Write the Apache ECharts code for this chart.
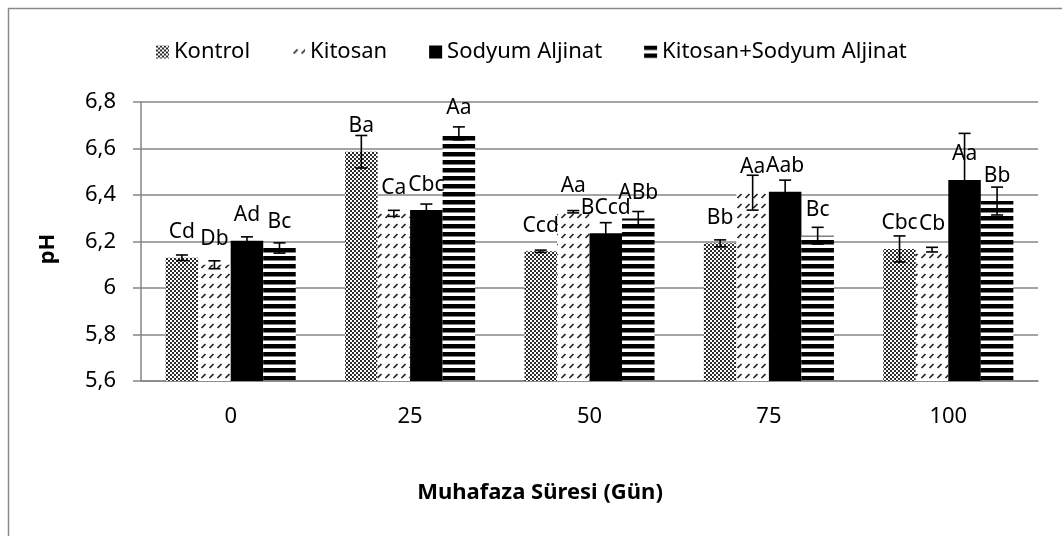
<!DOCTYPE html>
<html>
<head>
<meta charset="utf-8">
<script src="https://cdn.jsdelivr.net/npm/echarts@6/dist/echarts.min.js"></script>
<style>
  html, body { margin: 0; padding: 0; background: #fff; }
  #chart { width: 1062px; height: 536px; }
</style>
</head>
<body>
<div id="chart"></div>
<script>
// gün
const categories = ['0', '25', '50', '75', '100']
const seriesNames = ['Kontrol', 'Kitosan', 'Sodyum Aljinat', 'Kitosan+Sodyum Aljinat']

const kontrol = [6.13, 6.586, 6.158, 6.192, 6.168]
const kitosan = [6.1, 6.321, 6.328, 6.41, 6.165]
const sodyum = [6.203, 6.335, 6.235, 6.414, 6.465]
const kitosanSodyum = [6.172, 6.665, 6.299, 6.225, 6.374]

const kontrolErr = [0.012, 0.07, 0.005, 0.015, 0.056]
const kitosanErr = [0.017, 0.013, 0.005, 0.075, 0.01]
const sodyumErr = [0.017, 0.026, 0.046, 0.05, 0.2]
const kitosanSodyumErr = [0.022, 0.028, 0.03, 0.036, 0.06]

const kontrolLbl = ['Cd', 'Ba', 'Ccd', 'Bb', 'Cbc']
const kitosanLbl = ['Db', 'Ca', 'Aa', 'Aa', 'Cb']
const sodyumLbl = ['Ad', 'Cbc', 'BCcd', 'Aab', 'Aa']
const kitosanSodyumLbl = ['Bc', 'Aa', 'ABb', 'Bc', 'Bb']

const yTicks = { min: 5.6, max: 6.8, interval: 0.2 }

const values = [kontrol, kitosan, sodyum, kitosanSodyum]
const errors = [kontrolErr, kitosanErr, sodyumErr, kitosanSodyumErr]
const labels = [kontrolLbl, kitosanLbl, sodyumLbl, kitosanSodyumLbl]

const FONT = 'Noto Sans'
const CAT_GAP = 0.275

// desen dolgular
function checker() {
  const c = document.createElement('canvas')
  c.width = 4; c.height = 4
  const g = c.getContext('2d')
  g.fillStyle = '#fff'; g.fillRect(0, 0, 4, 4)
  g.fillStyle = '#2a2a2a'
  g.fillRect(0, 0, 2, 2); g.fillRect(2, 2, 2, 2)
  return { image: c, repeat: 'repeat' }
}
function dashes() {
  const c = document.createElement('canvas')
  c.width = 8; c.height = 10
  const g = c.getContext('2d')
  g.fillStyle = '#fff'; g.fillRect(0, 0, 8, 10)
  g.strokeStyle = '#222'; g.lineWidth = 1.7
  g.beginPath(); g.moveTo(1.5, 8); g.lineTo(5.5, 4); g.stroke()
  return { image: c, repeat: 'repeat' }
}
function stripes() {
  const c = document.createElement('canvas')
  c.width = 8; c.height = 8
  const g = c.getContext('2d')
  g.fillStyle = '#fff'; g.fillRect(0, 0, 8, 8)
  g.fillStyle = '#000'; g.fillRect(0, 0, 8, 4.5)
  return { image: c, repeat: 'repeat' }
}
const fills = [checker(), dashes(), '#000', stripes()]

const chart = echarts.init(document.getElementById('chart'))

const barSeries = seriesNames.map((name, i) => ({
  name,
  type: 'bar',
  data: values[i],
  barGap: 0,
  barCategoryGap: (CAT_GAP * 100) + '%',
  itemStyle: { color: fills[i] },
  label: {
    show: true,
    position: 'top',
    distance: 15,
    fontFamily: FONT,
    fontSize: 21,
    color: '#000',
    formatter: p => labels[i][p.dataIndex],
  },
  z: 2,
}))

const errSeries = seriesNames.map((name, i) => ({
  type: 'custom',
  name: name + ' err',
  data: values[i].map((v, k) => [k, v, errors[i][k]]),
  renderItem: (params, api) => {
    const k = api.value(0)
    const v = api.value(1)
    const e = api.value(2)
    const catW = api.size([1, 0])[0]
    const bw = catW * (1 - CAT_GAP) / 4
    const cx = api.coord([k, v])[0] + (i - 1.5) * bw
    const yHi = api.coord([k, v + e])[1]
    const yLo = api.coord([k, v - e])[1]
    const style = { stroke: '#000', lineWidth: 1.6 }
    return {
      type: 'group',
      children: [
        { type: 'line', shape: { x1: cx, y1: yHi, x2: cx, y2: yLo }, style },
        { type: 'line', shape: { x1: cx - 6, y1: yHi, x2: cx + 6, y2: yHi }, style },
        { type: 'line', shape: { x1: cx - 6, y1: yLo, x2: cx + 6, y2: yLo }, style },
      ],
    }
  },
  z: 5,
  silent: true,
}))

const option = {
  backgroundColor: '#fff',
  animation: false,
  textStyle: { fontFamily: FONT },
  legend: {
    data: seriesNames,
    top: 36,
    left: 151,
    icon: 'rect',
    itemWidth: 13,
    itemHeight: 13,
    itemGap: 42,
    textStyle: { fontFamily: FONT, fontSize: 22, color: '#000' },
  },
  grid: { left: 141, right: 24, top: 102, bottom: 155 },
  xAxis: {
    type: 'category',
    data: categories,
    axisLine: { lineStyle: { color: '#868686', width: 1.5 } },
    axisTick: { show: false },
    axisLabel: { fontFamily: FONT, fontSize: 22, color: '#000', margin: 25 },
  },
  yAxis: {
    type: 'value',
    min: yTicks.min,
    max: yTicks.max,
    interval: yTicks.interval,
    axisLine: { show: true, lineStyle: { color: '#868686', width: 1.5 } },
    axisTick: { show: true, length: 8, lineStyle: { color: '#868686', width: 1.5 } },
    splitLine: { lineStyle: { color: '#868686', width: 1.5 } },
    axisLabel: {
      fontFamily: FONT, fontSize: 22, color: '#000', margin: 25,
      formatter: v => String(+v.toFixed(1)).replace('.', ','),
    },
  },
  graphic: [
    {
      type: 'rect',
      shape: { x: 8.5, y: 8.5, width: 1100, height: 600 },
      style: { fill: 'none', stroke: '#8a8a8a', lineWidth: 1.5 },
      silent: true,
    },
    {
      type: 'text',
      x: 48, y: 249,
      rotation: Math.PI / 2,
      style: { text: 'pH', fontFamily: FONT, fontSize: 22, fontWeight: 'bold', fill: '#000', align: 'center', verticalAlign: 'middle' },
    },
    {
      type: 'text',
      x: 540, y: 493,
      style: { text: 'Muhafaza Süresi (Gün)', fontFamily: FONT, fontSize: 22, fontWeight: 'bold', fill: '#000', align: 'center', verticalAlign: 'middle' },
    },
  ],
  series: [...barSeries, ...errSeries],
}

chart.setOption(option)
window.addEventListener('resize', () => chart.resize())
</script>
</body>
</html>
